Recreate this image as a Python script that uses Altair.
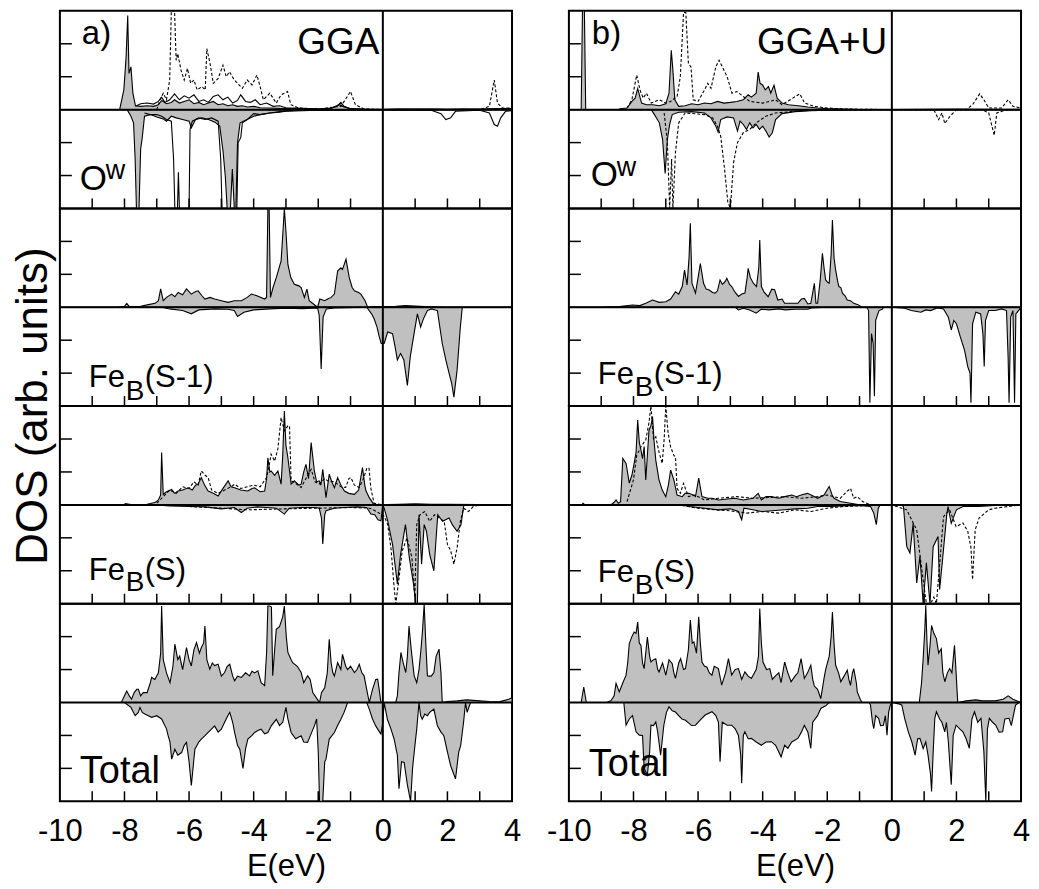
import altair as alt
import pandas as pd

# ---------------- data: (E in eV, DOS in arb. units) ----------------
# a) GGA, O^w
gga_ow_up = [(-10,0),(-8.15,0),(-8.02,0.6),(-7.95,1.6),(-7.9,2.86),(-7.86,1.1),(-7.8,1.3),(-7.74,0.5),(-7.66,0.12),(-7.5,0.1),(-7.3,0.12),(-7.1,0.1),(-6.95,0.15),(-6.85,0.28),(-6.7,0.18),(-6.55,0.22),(-6.45,0.3),(-6.3,0.2),(-6.15,0.25),(-6.0,0.3),(-5.85,0.18),(-5.7,0.22),(-5.55,0.15),(-5.4,0.2),(-5.25,0.25),(-5.1,0.15),(-4.95,0.18),(-4.8,0.12),(-4.65,0.15),(-4.5,0.1),(-4.35,0.12),(-4.2,0.08),(-4.0,0.1),(-3.8,0.06),(-3.5,0.05),(-3.2,0.04),(-2.9,0.03),(-2.5,0.03),(-2.0,0.02),(-1.6,0.05),(-1.4,0.12),(-1.3,0.22),(-1.2,0.1),(-1.0,0.03),(-0.6,0.01),(0.0,0),(0.5,0.02),(1.0,0.01),(1.5,0.02),(2.0,0.01),(2.5,0.02),(3.0,0.01),(3.5,0.03),(4.0,0.03)]
gga_ow_dn = [(-10,0),(-7.92,0),(-7.8,-0.2),(-7.72,-0.4),(-7.67,-1.5),(-7.63,-3.0),(-7.55,-3.0),(-7.5,-1.2),(-7.45,-0.85),(-7.38,-0.2),(-7.2,-0.15),(-7.0,-0.22),(-6.8,-0.28),(-6.7,-0.35),(-6.55,-0.2),(-6.4,-0.25),(-6.2,-0.3),(-6.0,-0.35),(-5.93,-0.55),(-5.8,-0.3),(-5.6,-0.25),(-5.4,-0.3),(-5.2,-0.38),(-5.05,-0.5),(-4.95,-1.25),(-4.88,-2.0),(-4.82,-3.0),(-4.72,-3.0),(-4.66,-1.8),(-4.6,-3.0),(-4.55,-3.0),(-4.5,-1.0),(-4.42,-0.4),(-4.2,-0.3),(-4.0,-0.2),(-3.8,-0.15),(-3.5,-0.1),(-3.2,-0.06),(-3.0,-0.04),(-2.5,-0.02),(0.0,0),(4.0,0)]
gga_ow2_up = [(-7.66,0.1),(-7.5,0.18),(-7.3,0.2),(-7.1,0.17),(-6.95,0.25),(-6.85,0.38),(-6.75,0.22),(-6.6,0.3),(-6.45,0.48),(-6.3,0.3),(-6.15,0.42),(-6.0,0.35),(-5.85,0.45),(-5.7,0.25),(-5.55,0.3),(-5.4,0.22),(-5.25,0.4),(-5.1,0.45),(-4.95,0.3),(-4.8,0.38),(-4.65,0.2),(-4.5,0.28),(-4.4,0.45),(-4.25,0.25),(-4.1,0.22),(-3.95,0.3),(-3.8,0.15),(-3.6,0.2),(-3.4,0.1),(-3.2,0.12),(-3.0,0.06),(-2.7,0.05),(-2.3,0.03),(-2.0,0.02),(-1.6,0.04),(-1.35,0.15),(-1.25,0.1),(-1.0,0.03),(-0.5,0.01),(0.0,0.01),(1.0,0.02),(2.0,0.01),(3.0,0.02),(3.5,0.02),(4.0,0.02)]
gga_ow2_dn = [(-7.38,-0.1),(-7.2,-0.15),(-7.0,-0.15),(-6.85,-0.2),(-6.7,-0.3),(-6.55,-0.35),(-6.48,-1.5),(-6.44,-3.0),(-6.36,-3.0),(-6.33,-1.9),(-6.3,-3.0),(-6.0,-3.0),(-5.97,-0.6),(-5.9,-0.35),(-5.7,-0.25),(-5.5,-0.3),(-5.3,-0.25),(-5.1,-0.35),(-5.02,-1.5),(-4.98,-3.0),(-4.52,-3.0),(-4.48,-1.0),(-4.4,-0.85),(-4.35,-0.4),(-4.2,-0.3),(-4.0,-0.12),(-3.8,-0.15),(-3.5,-0.1),(-3.2,-0.08),(-3.0,-0.05),(-2.5,-0.03),(-2.0,-0.02),(0.0,-0.01),(1.5,-0.02),(1.8,-0.12),(1.95,-0.3),(2.1,-0.25),(2.25,-0.05),(3.0,-0.02),(3.3,-0.1),(3.45,-0.45),(3.55,-0.5),(3.65,-0.25),(3.8,-0.05),(4.0,-0.03)]
gga_ow3_up = [(-7.0,0.0),(-6.9,0.3),(-6.8,0.5),(-6.7,0.3),(-6.6,0.9),(-6.55,3.0),(-6.45,3.0),(-6.4,1.5),(-6.35,1.7),(-6.25,1.2),(-6.15,0.9),(-6.05,1.25),(-5.95,0.8),(-5.85,0.9),(-5.75,0.6),(-5.6,0.7),(-5.5,0.6),(-5.45,1.85),(-5.35,1.4),(-5.25,0.8),(-5.1,0.95),(-4.95,1.35),(-4.85,1.0),(-4.75,1.15),(-4.6,0.9),(-4.5,0.8),(-4.35,0.65),(-4.2,0.9),(-4.05,0.75),(-3.9,1.05),(-3.8,0.7),(-3.7,0.3),(-3.5,0.5),(-3.3,0.2),(-3.15,0.45),(-2.95,0.55),(-2.85,0.15),(-2.6,0.05),(-2.0,0.02),(-1.3,0.1),(-1.0,0.55),(-0.85,0.15),(-0.6,0.03),(0.0,0.0),(3.0,0.0),(3.3,0.1),(3.45,0.9),(3.55,0.2),(3.7,0.05),(4.0,0.05)]

# b) GGA+U, O^w
ggau_ow_up = [(-10,0),(-9.62,0),(-9.58,3.0),(-9.52,3.0),(-9.48,0),(-8.5,0),(-8.4,0.03),(-8.2,0.05),(-8.05,0.25),(-7.95,0.35),(-7.87,0.64),(-7.75,0.2),(-7.6,0.15),(-7.4,0.15),(-7.2,0.12),(-7.0,0.18),(-6.9,0.5),(-6.83,1.8),(-6.78,1.2),(-6.72,0.3),(-6.6,0.1),(-6.4,0.12),(-6.2,0.18),(-6.0,0.15),(-5.8,0.2),(-5.6,0.18),(-5.4,0.25),(-5.2,0.2),(-5.0,0.22),(-4.8,0.25),(-4.6,0.3),(-4.45,0.45),(-4.35,0.38),(-4.2,0.5),(-4.14,1.14),(-4.08,0.8),(-4.0,0.75),(-3.92,0.6),(-3.82,0.7),(-3.75,0.5),(-3.65,0.74),(-3.55,0.35),(-3.4,0.2),(-3.2,0.15),(-2.9,0.12),(-2.6,0.08),(-2.3,0.05),(-2.0,0.03),(-1.5,0.02),(-1.0,0.0),(0.0,0),(1.0,0.01),(2.0,0.02),(3.0,0.01),(4.0,0.01)]
ggau_ow_dn = [(-10,0),(-7.45,0),(-7.35,-0.15),(-7.2,-0.4),(-7.1,-0.9),(-7.02,-1.94),(-6.95,-0.9),(-6.88,-0.45),(-6.8,-0.15),(-6.6,-0.08),(-6.2,-0.06),(-5.8,-0.1),(-5.6,-0.25),(-5.45,-0.5),(-5.38,-0.68),(-5.3,-0.3),(-5.1,-0.22),(-4.9,-0.25),(-4.78,-0.65),(-4.7,-0.35),(-4.6,-0.45),(-4.5,-0.6),(-4.4,-0.4),(-4.3,-0.55),(-4.2,-0.45),(-4.1,-0.6),(-4.0,-0.5),(-3.9,-0.65),(-3.8,-0.83),(-3.7,-0.7),(-3.6,-0.3),(-3.4,-0.12),(-3.0,-0.06),(-2.5,-0.03),(-2.0,-0.02),(0.0,0),(4.0,0)]
ggau_ow3_up = [(-8.2,0.05),(-8.05,0.3),(-7.9,1.05),(-7.8,0.6),(-7.7,0.35),(-7.6,0.5),(-7.45,0.2),(-7.2,0.3),(-7.0,0.2),(-6.85,0.25),(-6.65,0.4),(-6.55,1.0),(-6.45,2.95),(-6.38,2.95),(-6.3,1.4),(-6.22,1.3),(-6.15,0.3),(-6.0,0.25),(-5.8,0.6),(-5.7,0.8),(-5.6,0.65),(-5.45,1.3),(-5.35,1.5),(-5.25,1.3),(-5.1,1.0),(-4.95,0.5),(-4.8,0.55),(-4.6,0.4),(-4.4,0.25),(-4.0,0.2),(-3.6,0.3),(-3.4,0.15),(-2.85,0.48),(-2.7,0.2),(-2.4,0.1),(-2.0,0.05),(-1.5,0.02),(0.0,0.0),(2.3,0.0),(2.5,0.15),(2.72,0.48),(2.85,0.3),(3.0,0.05),(3.4,0.05),(3.6,0.3),(3.75,0.1),(4.0,0.05)]
ggau_ow3_dn = [(-7.05,-0.1),(-6.95,-1.0),(-6.88,-3.0),(-6.82,-1.5),(-6.78,-3.0),(-6.7,-1.3),(-6.6,-0.4),(-6.4,-0.1),(-5.8,-0.15),(-5.55,-0.25),(-5.4,-0.5),(-5.3,-0.8),(-5.18,-1.8),(-5.08,-2.8),(-5.0,-3.0),(-4.9,-1.6),(-4.78,-1.0),(-4.6,-0.7),(-4.4,-0.6),(-4.2,-0.4),(-3.9,-0.2),(-3.6,-0.1),(-3.0,-0.05),(-2.5,-0.02),(0.0,0.0),(1.3,0.0),(1.45,-0.3),(1.55,-0.1),(1.64,-0.42),(1.8,-0.2),(2.0,0.0),(2.8,0.0),(3.0,-0.1),(3.17,-0.78),(3.25,-0.1),(3.5,-0.02),(4.0,0.0)]

# a) GGA, Fe_B(S-1)
gga_fes1_up = [(-10,0),(-8.2,0),(-8.0,0.03),(-7.93,0.12),(-7.85,0.02),(-7.5,0.03),(-7.26,0.08),(-7.05,0.12),(-6.95,0.2),(-6.88,0.56),(-6.8,0.2),(-6.7,0.3),(-6.54,0.4),(-6.44,0.32),(-6.34,0.45),(-6.2,0.38),(-6.08,0.56),(-5.93,0.4),(-5.8,0.48),(-5.72,0.5),(-5.6,0.35),(-5.51,0.25),(-5.35,0.3),(-5.21,0.25),(-5.0,0.2),(-4.79,0.15),(-4.6,0.2),(-4.38,0.2),(-4.2,0.3),(-4.07,0.4),(-3.9,0.35),(-3.66,0.25),(-3.6,0.3),(-3.56,3.0),(-3.52,3.0),(-3.48,0.3),(-3.4,0.6),(-3.3,0.9),(-3.15,1.41),(-3.08,2.5),(-3.05,3.0),(-3.0,2.3),(-2.94,1.3),(-2.85,0.9),(-2.74,0.7),(-2.6,0.65),(-2.53,0.6),(-2.43,0.3),(-2.35,0.55),(-2.28,0.2),(-2.15,0.1),(-2.02,0.0),(-1.95,0.25),(-1.8,0.2),(-1.71,0.25),(-1.6,0.3),(-1.5,0.4),(-1.4,1.1),(-1.3,1.2),(-1.25,1.15),(-1.14,1.46),(-1.04,0.9),(-0.95,0.6),(-0.88,0.5),(-0.75,0.45),(-0.68,0.4),(-0.55,0.2),(-0.47,0.0),(-0.3,0.02),(0.0,0.02),(0.4,0.03),(0.7,0.05),(1.0,0.04),(1.3,0.02),(1.7,0.01),(2.0,0),(4.0,0)]
gga_fes1_dn = [(-10,0),(-6.85,0),(-6.6,-0.05),(-6.2,-0.1),(-5.93,-0.2),(-5.7,-0.08),(-5.2,-0.05),(-4.8,-0.06),(-4.6,-0.1),(-4.5,-0.28),(-4.3,-0.15),(-4.0,-0.08),(-3.5,-0.05),(-3.0,-0.03),(-2.5,-0.04),(-2.02,-0.02),(-1.97,-0.25),(-1.91,-1.87),(-1.85,-0.3),(-1.75,-0.05),(-1.5,-0.02),(-0.5,0),(-0.35,-0.2),(-0.27,-0.35),(-0.18,-0.6),(-0.11,-0.9),(-0.05,-1.1),(0.04,-1.1),(0.15,-0.75),(0.3,-0.8),(0.38,-1.2),(0.45,-1.6),(0.55,-1.4),(0.65,-1.6),(0.76,-2.37),(0.85,-1.5),(0.95,-0.9),(1.07,-0.2),(1.17,-0.6),(1.22,-0.45),(1.28,-0.3),(1.38,-0.1),(1.5,-0.05),(1.69,-0.1),(1.84,-1.1),(1.95,-1.6),(2.05,-2.0),(2.13,-2.3),(2.2,-2.73),(2.3,-1.9),(2.4,-0.6),(2.46,0),(4.0,0)]

# b) GGA+U, Fe_B(S-1)
ggau_fes1_up = [(-10,0),(-9.0,0),(-8.95,0.01),(-8.44,0.02),(-8.03,0.07),(-7.8,0.05),(-7.62,0.12),(-7.41,0.22),(-7.2,0.15),(-7.0,0.17),(-6.85,0.25),(-6.7,0.47),(-6.6,0.4),(-6.49,0.63),(-6.42,1.13),(-6.34,0.68),(-6.28,1.5),(-6.24,2.55),(-6.19,0.73),(-6.08,0.43),(-6.0,0.9),(-5.93,1.33),(-5.83,0.73),(-5.75,0.55),(-5.67,0.53),(-5.55,0.45),(-5.47,0.43),(-5.4,0.5),(-5.32,0.83),(-5.25,0.7),(-5.21,0.73),(-5.15,0.8),(-5.11,0.88),(-5.03,0.7),(-4.96,0.63),(-4.85,0.45),(-4.75,0.33),(-4.65,0.4),(-4.55,0.43),(-4.48,0.9),(-4.45,1.18),(-4.38,0.9),(-4.29,0.73),(-4.19,0.63),(-4.12,1.2),(-4.09,2.04),(-4.04,0.63),(-3.95,0.45),(-3.83,0.32),(-3.72,0.55),(-3.63,0.53),(-3.53,0.22),(-3.4,0.25),(-3.32,0.12),(-3.1,0.12),(-2.91,0.12),(-2.8,0.25),(-2.71,0.27),(-2.6,0.1),(-2.51,0.12),(-2.44,0.5),(-2.4,0.73),(-2.35,0.12),(-2.3,0.12),(-2.22,0.8),(-2.15,1.64),(-2.1,1.2),(-2.05,0.83),(-1.98,0.75),(-1.94,0.73),(-1.88,1.6),(-1.84,2.65),(-1.79,1.5),(-1.74,1.13),(-1.68,0.8),(-1.64,0.63),(-1.58,0.6),(-1.53,0.43),(-1.45,0.35),(-1.38,0.22),(-1.28,0.2),(-1.18,0.12),(-1.05,0.08),(-0.92,0.0),(4.0,0)]
ggau_fes1_dn = [(-10,0),(-4.85,0),(-4.75,-0.08),(-4.6,-0.03),(-4.4,-0.08),(-4.2,-0.18),(-4.05,-0.06),(-3.8,-0.08),(-3.5,-0.05),(-3.3,-0.08),(-3.0,-0.06),(-2.6,-0.06),(-2.5,-0.02),(-2.0,0),(-0.78,0),(-0.72,-0.1),(-0.68,-2.9),(-0.63,-0.8),(-0.58,-1.1),(-0.54,-2.7),(-0.5,-0.4),(-0.4,-0.1),(-0.3,-0.06),(-0.25,0),(0.0,0),(0.4,-0.03),(0.6,-0.1),(0.9,-0.15),(1.05,-0.08),(1.2,-0.1),(1.4,-0.02),(1.6,-0.05),(1.75,-0.3),(1.84,-0.69),(1.92,-0.4),(2.0,-0.5),(2.12,-0.9),(2.25,-1.3),(2.35,-1.8),(2.42,-2.0),(2.45,-2.9),(2.5,-0.5),(2.6,-0.15),(2.75,-0.2),(2.82,-0.8),(2.86,-1.8),(2.9,-0.4),(3.0,-0.1),(3.2,-0.1),(3.4,-0.05),(3.55,-0.1),(3.6,-1.5),(3.63,-2.9),(3.68,-0.3),(3.75,-0.1),(3.8,-2.9),(3.84,-0.2),(3.94,-0.08),(4.0,0)]

# a) GGA, Fe_B(S)
gga_fes_up = [(-10,0),(-8.0,0),(-7.98,0.04),(-7.8,0.01),(-7.3,0.02),(-7.06,0.07),(-6.95,0.15),(-6.88,0.3),(-6.85,1.59),(-6.8,0.32),(-6.7,0.4),(-6.54,0.47),(-6.45,0.35),(-6.34,0.42),(-6.2,0.45),(-6.03,0.52),(-5.9,0.45),(-5.8,0.6),(-5.72,0.63),(-5.62,0.83),(-5.52,0.6),(-5.41,0.42),(-5.25,0.35),(-5.1,0.27),(-4.95,0.5),(-4.79,0.73),(-4.7,0.55),(-4.59,0.52),(-4.4,0.45),(-4.18,0.42),(-4.05,0.5),(-3.97,0.52),(-3.8,0.4),(-3.66,0.42),(-3.6,0.8),(-3.56,1.43),(-3.5,1.0),(-3.46,1.03),(-3.35,0.9),(-3.25,1.03),(-3.15,0.63),(-3.1,1.5),(-3.05,2.85),(-3.0,1.8),(-2.94,1.43),(-2.84,0.63),(-2.74,0.73),(-2.6,0.6),(-2.53,0.63),(-2.45,1.0),(-2.38,1.23),(-2.3,0.8),(-2.22,1.89),(-2.12,1.03),(-2.05,0.7),(-1.97,0.73),(-1.92,0.6),(-1.86,1.08),(-1.76,0.22),(-1.66,0.93),(-1.58,0.7),(-1.5,0.52),(-1.4,0.83),(-1.3,0.6),(-1.19,0.42),(-1.05,0.35),(-0.88,0.32),(-0.75,0.45),(-0.63,1.13),(-0.56,0.6),(-0.52,0.42),(-0.42,0.22),(-0.27,0.0),(0.5,0.02),(1.0,0.03),(1.5,0.02),(2.0,0.02),(4.0,0)]
gga_fes_dn = [(-10,0),(-7.0,0),(-6.6,-0.03),(-6.0,-0.05),(-5.5,-0.06),(-5.0,-0.12),(-4.6,-0.08),(-4.38,-0.23),(-4.2,-0.1),(-3.9,-0.06),(-3.6,-0.08),(-3.3,-0.1),(-3.05,-0.28),(-2.9,-0.1),(-2.5,-0.08),(-2.1,-0.08),(-1.97,-0.1),(-1.9,-0.4),(-1.86,-1.19),(-1.8,-0.3),(-1.76,-0.18),(-1.5,-0.1),(-1.2,-0.08),(-0.8,-0.06),(-0.5,-0.08),(-0.37,-0.28),(-0.25,-0.3),(-0.15,-0.45),(-0.06,-0.48),(0.0,0),(0.04,-0.1),(0.15,-0.48),(0.3,-1.2),(0.45,-2.4),(0.55,-1.5),(0.7,-0.6),(0.82,-1.6),(0.95,-2.4),(1.02,-3.0),(1.07,-3.0),(1.12,-0.3),(1.2,-1.8),(1.28,-0.6),(1.35,-0.8),(1.45,-1.5),(1.58,-2.0),(1.7,-0.3),(1.85,-0.5),(2.05,-0.4),(2.15,-0.6),(2.3,-0.8),(2.42,-0.6),(2.51,0),(4.0,0)]
gga_fes3_up = [(-7.0,0.05),(-6.8,0.25),(-6.6,0.45),(-6.4,0.35),(-6.2,0.55),(-6.0,0.5),(-5.85,0.7),(-5.72,0.6),(-5.62,1.03),(-5.5,0.9),(-5.41,0.83),(-5.3,0.45),(-5.1,0.35),(-4.9,0.45),(-4.7,0.55),(-4.59,0.63),(-4.4,0.5),(-4.2,0.55),(-4.0,0.6),(-3.8,0.55),(-3.6,0.83),(-3.5,1.3),(-3.46,1.54),(-3.35,1.33),(-3.25,1.7),(-3.15,2.65),(-3.05,2.25),(-2.94,2.4),(-2.89,2.4),(-2.84,0.73),(-2.74,0.68),(-2.53,0.53),(-2.38,0.8),(-2.22,1.08),(-2.1,0.7),(-1.97,0.63),(-1.8,0.8),(-1.71,0.73),(-1.5,0.7),(-1.3,0.55),(-1.15,0.53),(-1.05,0.8),(-0.99,0.83),(-0.88,0.6),(-0.73,0.53),(-0.6,0.8),(-0.5,1.1),(-0.43,1.13),(-0.37,0.5),(-0.27,0.05),(0.0,0.0)]
gga_fes3_dn = [(-6.0,-0.05),(-5.0,-0.1),(-4.2,-0.15),(-3.0,-0.12),(-2.0,-0.1),(-1.0,-0.08),(-0.4,-0.1),(-0.2,-0.2),(0.05,-0.35),(0.15,-0.6),(0.25,-1.3),(0.35,-2.5),(0.4,-3.0),(0.48,-2.4),(0.6,-1.4),(0.75,-1.0),(0.9,-1.6),(0.99,-2.8),(1.05,-0.6),(1.15,-0.3),(1.3,-0.2),(1.45,-0.5),(1.6,-0.3),(1.75,-0.4),(1.9,-0.5),(2.0,-1.2),(2.1,-1.39),(2.2,-1.8),(2.3,-1.3),(2.4,-0.5),(2.5,-0.1),(2.65,-0.2),(2.8,-0.05),(3.0,0.0),(4.0,0.0)]

# b) GGA+U, Fe_B(S)
ggau_fes_up = [(-10,0),(-9.6,0),(-9.56,0.05),(-9.5,0),(-8.7,0),(-8.6,0.08),(-8.54,0.15),(-8.47,0.05),(-8.4,0.1),(-8.33,1.41),(-8.23,1.26),(-8.13,0.66),(-8.05,0.9),(-7.98,1.26),(-7.92,1.6),(-7.87,2.58),(-7.82,1.9),(-7.77,1.67),(-7.72,1.4),(-7.67,1.77),(-7.62,0.76),(-7.57,1.5),(-7.52,2.27),(-7.46,2.4),(-7.41,2.68),(-7.36,1.9),(-7.31,1.36),(-7.21,0.76),(-7.11,0.45),(-7.0,0.25),(-6.92,0.6),(-6.85,1.06),(-6.75,0.76),(-6.65,0.3),(-6.49,0.25),(-6.4,0.35),(-6.29,0.35),(-6.15,0.3),(-6.08,0.25),(-5.98,0.81),(-5.88,0.25),(-5.7,0.2),(-5.57,0.2),(-5.37,0.15),(-5.1,0.18),(-4.86,0.2),(-4.6,0.15),(-4.3,0.2),(-4.14,0.35),(-4.04,0.15),(-3.9,0.25),(-3.73,0.25),(-3.5,0.2),(-3.32,0.25),(-3.1,0.3),(-2.95,0.25),(-2.81,0.3),(-2.61,0.35),(-2.45,0.28),(-2.3,0.2),(-2.1,0.3),(-1.94,0.56),(-1.85,0.3),(-1.79,0.2),(-1.6,0.1),(-1.28,0.05),(-1.0,0.0),(4.0,0)]
ggau_fes_dn = [(-10,0),(-6.5,0),(-6.29,-0.05),(-5.8,-0.1),(-5.37,-0.15),(-5.0,-0.12),(-4.75,-0.2),(-4.65,-0.45),(-4.58,-0.1),(-4.3,-0.15),(-4.04,-0.2),(-3.7,-0.18),(-3.32,-0.15),(-3.0,-0.12),(-2.6,-0.1),(-2.3,-0.05),(-1.9,-0.05),(-1.5,-0.03),(-1.0,-0.02),(-0.66,-0.05),(-0.56,-0.25),(-0.48,-0.6),(-0.42,-0.1),(-0.36,0),(0.3,0),(0.36,-0.05),(0.46,-1.26),(0.56,-1.46),(0.66,-0.56),(0.77,-2.37),(0.87,-1.56),(0.97,-3.0),(1.07,-1.76),(1.18,-3.0),(1.28,-1.27),(1.43,-0.96),(1.48,-2.57),(1.58,-1.56),(1.7,-0.3),(1.74,-0.05),(1.84,-0.56),(2.0,-0.15),(2.2,-0.05),(2.5,-0.05),(2.7,-0.05),(3.2,-0.02),(4.0,0)]
ggau_fes3_up = [(-8.2,0.1),(-8.0,0.76),(-7.9,1.5),(-7.75,1.8),(-7.62,1.97),(-7.52,2.5),(-7.46,3.0),(-7.38,2.0),(-7.31,2.07),(-7.21,1.6),(-7.11,1.26),(-7.05,2.0),(-7.0,3.0),(-6.93,2.2),(-6.85,1.76),(-6.75,1.5),(-6.7,1.46),(-6.65,0.5),(-6.55,0.35),(-6.45,0.65),(-6.3,0.25),(-6.1,0.3),(-5.8,0.15),(-5.37,0.2),(-4.8,0.25),(-4.3,0.2),(-3.32,0.25),(-2.8,0.2),(-2.3,0.25),(-2.0,0.3),(-1.6,0.2),(-1.4,0.4),(-1.28,0.5),(-1.18,0.2),(-1.07,0.25),(-0.9,0.1),(-0.66,0.0),(0.0,0.0)]
ggau_fes3_dn = [(-6.5,-0.02),(-6.0,-0.1),(-5.5,-0.15),(-5.0,-0.18),(-4.5,-0.25),(-4.0,-0.2),(-3.5,-0.25),(-3.0,-0.15),(-2.5,-0.2),(-2.0,-0.1),(-1.5,-0.05),(-1.0,-0.03),(0.0,0.0),(0.46,-0.15),(0.77,-0.76),(0.97,-2.27),(1.07,-3.0),(1.2,-3.0),(1.3,-2.8),(1.38,-3.0),(1.48,-1.8),(1.6,-0.36),(1.79,-0.15),(1.99,-0.66),(2.2,-0.55),(2.35,-0.8),(2.45,-1.3),(2.5,-2.27),(2.58,-0.76),(2.7,-0.4),(3.0,-0.15),(3.2,-0.1),(3.6,-0.05),(4.0,0.0)]

# a) GGA, Total
gga_tot_up = [(-10,0),(-8.1,0),(-7.93,0.35),(-7.85,0.2),(-7.78,0.1),(-7.7,0.3),(-7.62,0.4),(-7.57,0.4),(-7.5,0.2),(-7.42,0.3),(-7.3,0.3),(-7.2,0.6),(-7.16,0.76),(-7.06,0.7),(-6.95,0.9),(-6.88,1.5),(-6.85,2.93),(-6.8,1.31),(-6.7,0.9),(-6.59,0.6),(-6.5,1.1),(-6.44,1.77),(-6.35,1.3),(-6.29,1.41),(-6.2,1.0),(-6.08,1.67),(-6.0,1.3),(-5.93,1.11),(-5.85,1.6),(-5.77,1.82),(-5.68,1.5),(-5.62,1.67),(-5.55,1.8),(-5.51,2.32),(-5.45,1.3),(-5.36,1.01),(-5.28,1.2),(-5.21,1.12),(-5.1,1.16),(-5.0,0.8),(-4.9,0.91),(-4.82,1.1),(-4.74,1.16),(-4.65,0.8),(-4.59,0.66),(-4.5,0.8),(-4.38,0.76),(-4.25,0.9),(-4.13,0.81),(-4.05,0.95),(-3.97,0.9),(-3.87,0.96),(-3.77,0.6),(-3.66,0.51),(-3.6,1.5),(-3.56,2.93),(-3.5,2.93),(-3.45,2.9),(-3.41,0.81),(-3.35,1.6),(-3.3,2.22),(-3.2,2.3),(-3.1,2.6),(-3.05,2.93),(-2.99,2.0),(-2.94,1.52),(-2.84,1.3),(-2.79,1.21),(-2.65,1.1),(-2.53,0.91),(-2.45,0.6),(-2.33,0.81),(-2.25,0.7),(-2.17,0.3),(-2.1,0.2),(-1.96,0.0),(-1.9,0.3),(-1.8,0.45),(-1.72,0.9),(-1.66,1.92),(-1.6,1.2),(-1.55,0.91),(-1.5,0.8),(-1.4,1.21),(-1.3,1.0),(-1.25,1.46),(-1.15,1.1),(-1.09,1.0),(-1.0,1.1),(-0.88,0.91),(-0.8,1.0),(-0.73,1.16),(-0.65,0.9),(-0.58,0.81),(-0.5,0.4),(-0.42,0.0),(-0.32,0.4),(-0.22,0.7),(-0.16,0.71),(-0.1,0.3),(-0.06,0.0),(0.4,0.0),(0.45,0.2),(0.5,0.9),(0.56,1.52),(0.63,1.2),(0.71,0.91),(0.76,1.4),(0.81,2.32),(0.88,1.6),(0.97,0.81),(1.05,0.6),(1.12,1.0),(1.18,1.6),(1.23,2.2),(1.28,2.98),(1.33,1.8),(1.38,0.81),(1.43,0.8),(1.5,0.8),(1.58,0.91),(1.65,1.4),(1.74,1.62),(1.8,0.9),(1.84,0.0),(2.0,0.03),(2.3,0.05),(2.6,0.08),(3.0,0.05),(3.3,0.03),(3.6,0.02),(3.9,0.1),(4.0,0.15)]
gga_tot_dn = [(-10,0),(-8.0,0),(-7.8,-0.15),(-7.67,-0.4),(-7.57,-0.3),(-7.52,-0.15),(-7.45,-0.3),(-7.37,-0.35),(-7.26,-0.4),(-7.16,-0.45),(-7.0,-0.4),(-6.85,-0.5),(-6.7,-0.8),(-6.65,-1.0),(-6.59,-1.2),(-6.54,-1.72),(-6.44,-1.42),(-6.35,-1.6),(-6.23,-1.52),(-6.15,-1.3),(-6.08,-1.21),(-6.0,-1.8),(-5.93,-2.52),(-5.82,-1.42),(-5.7,-1.2),(-5.62,-1.11),(-5.5,-1.0),(-5.41,-0.91),(-5.3,-0.8),(-5.21,-0.71),(-5.1,-0.9),(-5.0,-0.81),(-4.9,-0.6),(-4.8,-0.4),(-4.74,-0.3),(-4.65,-0.6),(-4.59,-0.91),(-4.5,-1.3),(-4.43,-1.42),(-4.33,-2.0),(-4.25,-1.4),(-4.18,-1.11),(-4.05,-1.0),(-3.97,-0.91),(-3.87,-0.85),(-3.77,-0.81),(-3.66,-0.95),(-3.56,-0.91),(-3.45,-0.7),(-3.3,-0.51),(-3.2,-0.7),(-3.1,-0.6),(-3.0,-0.15),(-2.94,-0.5),(-2.84,-0.91),(-2.7,-1.1),(-2.53,-1.01),(-2.45,-1.2),(-2.33,-1.21),(-2.2,-0.9),(-2.12,-0.71),(-2.05,-0.5),(-2.0,-1.5),(-1.96,-3.0),(-1.86,-3.0),(-1.8,-1.8),(-1.76,-1.72),(-1.66,-1.11),(-1.5,-0.91),(-1.4,-0.7),(-1.3,-0.51),(-1.2,-0.3),(-1.09,0.0),(-0.5,0.0),(-0.42,-0.2),(-0.32,-0.5),(-0.22,-0.71),(-0.1,-0.9),(-0.06,-0.96),(0.0,-0.6),(0.04,0.0),(0.1,-0.3),(0.14,-0.51),(0.25,-0.8),(0.35,-1.11),(0.45,-1.6),(0.5,-2.62),(0.58,-1.8),(0.66,-1.82),(0.76,-2.5),(0.86,-3.0),(0.92,-2.0),(0.97,-1.52),(1.05,-0.8),(1.12,0.0),(1.17,-0.4),(1.22,-0.51),(1.3,-0.35),(1.38,-0.4),(1.45,-0.3),(1.58,-0.2),(1.69,-0.71),(1.8,-0.9),(1.89,-1.01),(2.0,-1.5),(2.1,-1.92),(2.25,-2.32),(2.35,-1.5),(2.41,-1.31),(2.5,-0.6),(2.56,0.0),(2.61,-0.3),(2.68,-0.1),(2.72,0.0),(4.0,0)]

# b) GGA+U, Total
ggau_tot_up = [(-10,0),(-9.62,0),(-9.54,0.47),(-9.46,0),(-8.84,0),(-8.7,0.05),(-8.6,0.2),(-8.54,0.58),(-8.44,0.32),(-8.33,0.6),(-8.23,0.83),(-8.18,1.2),(-8.13,1.79),(-8.05,2.0),(-7.98,2.14),(-7.92,2.1),(-7.87,2.44),(-7.82,1.8),(-7.77,1.74),(-7.72,1.2),(-7.67,1.03),(-7.6,1.7),(-7.57,1.99),(-7.5,1.4),(-7.46,1.23),(-7.38,1.3),(-7.31,1.33),(-7.25,1.0),(-7.21,0.93),(-7.1,1.2),(-7.0,0.83),(-6.9,1.3),(-6.8,1.18),(-6.75,0.9),(-6.7,0.73),(-6.6,1.2),(-6.54,1.33),(-6.45,1.0),(-6.39,1.03),(-6.3,1.6),(-6.24,2.5),(-6.18,1.8),(-6.13,1.84),(-6.05,1.5),(-5.98,2.6),(-5.93,1.8),(-5.88,1.23),(-5.8,1.1),(-5.73,1.08),(-5.65,0.9),(-5.57,0.83),(-5.5,1.1),(-5.37,1.03),(-5.27,0.53),(-5.15,0.9),(-5.06,1.33),(-4.96,0.83),(-4.85,1.0),(-4.75,1.03),(-4.65,0.7),(-4.55,0.93),(-4.45,0.8),(-4.35,0.73),(-4.2,1.0),(-4.13,1.4),(-4.09,2.85),(-4.04,1.8),(-3.99,1.23),(-3.88,1.0),(-3.78,1.03),(-3.7,0.7),(-3.58,0.83),(-3.5,0.9),(-3.43,0.6),(-3.32,1.23),(-3.22,0.9),(-3.12,0.63),(-3.0,0.8),(-2.91,0.9),(-2.81,1.33),(-2.71,0.73),(-2.61,0.9),(-2.51,1.13),(-2.45,0.7),(-2.4,0.5),(-2.3,0.4),(-2.2,0.12),(-2.1,0.73),(-2.05,1.0),(-1.94,1.4),(-1.88,2.0),(-1.84,2.75),(-1.79,1.8),(-1.74,1.13),(-1.65,0.9),(-1.58,0.63),(-1.48,0.8),(-1.38,0.98),(-1.33,0.7),(-1.28,0.52),(-1.22,0.9),(-1.18,1.03),(-1.1,0.6),(-1.07,0.32),(-0.98,0.1),(-0.92,0.0),(0.85,0.0),(0.92,0.6),(0.97,1.33),(1.02,2.2),(1.05,2.95),(1.09,1.8),(1.12,1.13),(1.18,1.7),(1.23,2.34),(1.3,2.1),(1.38,1.94),(1.45,1.5),(1.53,1.63),(1.58,0.9),(1.64,0.63),(1.72,0.9),(1.79,1.03),(1.86,0.9),(1.94,1.74),(1.99,0.9),(2.04,0.0),(2.3,0.05),(2.6,0.08),(2.8,0.05),(3.2,0.05),(3.45,0.1),(3.6,0.2),(3.75,0.1),(3.94,0.02),(4.0,0)]
ggau_tot_dn = [(-10,0),(-8.3,0),(-8.23,-0.69),(-8.13,-0.5),(-8.03,-0.4),(-7.92,-0.89),(-7.82,-0.99),(-7.72,-1.0),(-7.67,-2.0),(-7.57,-2.2),(-7.5,-1.5),(-7.46,-0.69),(-7.38,-0.7),(-7.31,-0.59),(-7.25,-0.9),(-7.16,-1.6),(-7.06,-0.69),(-6.98,-0.3),(-6.9,-0.13),(-6.8,-0.25),(-6.7,-0.29),(-6.6,-0.4),(-6.5,-0.5),(-6.39,-0.54),(-6.2,-0.7),(-6.08,-0.69),(-5.9,-0.5),(-5.78,-0.38),(-5.57,-0.28),(-5.45,-0.4),(-5.37,-0.6),(-5.32,-1.8),(-5.25,-0.6),(-5.1,-0.69),(-4.96,-0.69),(-4.85,-0.8),(-4.75,-1.0),(-4.68,-1.6),(-4.65,-2.45),(-4.6,-1.0),(-4.55,-0.89),(-4.45,-1.1),(-4.35,-1.09),(-4.2,-1.2),(-4.04,-1.3),(-3.9,-1.2),(-3.73,-1.19),(-3.6,-1.3),(-3.5,-1.5),(-3.43,-1.65),(-3.32,-1.3),(-3.22,-1.39),(-3.1,-1.2),(-2.91,-1.09),(-2.8,-0.9),(-2.71,-0.69),(-2.6,-0.9),(-2.51,-1.39),(-2.45,-0.6),(-2.3,-0.4),(-2.2,-0.18),(-2.05,-0.1),(-1.94,0.0),(-0.7,0.0),(-0.66,-0.08),(-0.6,-0.6),(-0.56,-0.79),(-0.5,-0.4),(-0.41,-0.48),(-0.35,-0.7),(-0.26,-0.69),(-0.2,-0.4),(-0.15,-0.99),(-0.1,-0.3),(-0.05,-0.08),(0.0,0.0),(0.25,-0.05),(0.31,-0.08),(0.4,-0.5),(0.51,-0.89),(0.62,-1.2),(0.72,-1.6),(0.8,-1.1),(0.87,-1.09),(0.97,-1.4),(1.05,-1.2),(1.12,-1.6),(1.2,-2.2),(1.23,-2.7),(1.28,-1.5),(1.33,-0.48),(1.38,-0.28),(1.48,-0.5),(1.55,-0.6),(1.64,-0.89),(1.69,-0.6),(1.75,-1.2),(1.84,-2.5),(1.9,-1.0),(1.99,-0.69),(2.1,-0.8),(2.2,-0.89),(2.3,-1.1),(2.4,-1.39),(2.48,-0.5),(2.56,-0.28),(2.66,-0.6),(2.76,-0.48),(2.85,-1.5),(2.91,-3.0),(2.96,-0.8),(3.02,-0.48),(3.12,-0.6),(3.22,-0.69),(3.32,-0.9),(3.43,-0.89),(3.5,-0.5),(3.63,-0.48),(3.7,-0.7),(3.83,-0.08),(3.94,0.0),(4.0,0)]

# axis / tick values
x_tick_labels = [-10, -8, -6, -4, -2, 0, 2, 4]
x_minor_ticks = [-9, -8, -7, -6, -5, -4, -3, -2, -1, 1, 2, 3]
y_ticks = [-2, -1, 1, 2]
E_DOMAIN = [-10, 4]
DOS_DOMAIN = [-3, 3]

# ---------------- chart building ----------------
FONT = "Liberation Sans"
W, H = 453, 198
GRAY = "#c0c0c0"
LW = 1.1
xs = alt.Scale(domain=E_DOMAIN, nice=False, zero=False)
ys = alt.Scale(domain=DOS_DOMAIN, nice=False, zero=False)

BOTTOM_AXIS = alt.Axis(values=x_tick_labels, ticks=False, tickSize=0, domain=False, grid=False,
                       labelFont=FONT, labelFontSize=31, labelColor="black", labelPadding=15,
                       labelFlush=False, labelOverlap=False, labelExpr="'' + datum.value",
                       title="E(eV)", titleFont=FONT,
                       titleFontSize=31, titleFontWeight="normal", titleColor="black", titlePadding=5)


def df(pts):
    return pd.DataFrame(pts, columns=["E", "dos"])


def X(bottom):
    if bottom:
        return alt.X("E:Q", scale=xs, axis=BOTTOM_AXIS)
    return alt.X("E:Q", scale=xs, axis=None)


def Y():
    return alt.Y("dos:Q", scale=ys, axis=None)


def area(pts, bottom):
    return alt.Chart(df(pts)).mark_area(
        fill=GRAY, stroke="black", strokeWidth=LW, clip=True, interpolate="linear"
    ).encode(x=X(bottom), y=Y(), y2=alt.datum(0))


def line(pts, bottom, dashed=False):
    kw = dict(color="black", strokeWidth=LW, clip=True)
    if dashed:
        kw["strokeDash"] = [3, 2]
    return alt.Chart(df(pts)).mark_line(**kw).encode(x=X(bottom), y=Y())


def text(t, x, y, size, align="left", angle=None, baseline="alphabetic"):
    kw = dict(text=t, font=FONT, fontSize=size, color="black", align=align, baseline=baseline)
    if angle is not None:
        kw["angle"] = angle
    return alt.Chart(pd.DataFrame({"t": [t]})).mark_text(**kw).encode(x=alt.value(x), y=alt.value(y))


def panel(fills, lines, dots, labels, bottom=False):
    layers = [area(p, bottom) for p in fills]
    layers += [line(p, bottom) for p in lines]
    layers += [line(p, bottom, dashed=True) for p in dots]
    layers.append(alt.Chart(pd.DataFrame({"dos": [0]})).mark_rule(color="black", strokeWidth=2).encode(y=Y()))
    layers.append(alt.Chart(pd.DataFrame({"E": [0]})).mark_rule(color="black", strokeWidth=2).encode(x=X(bottom)))
    layers.append(alt.Chart(pd.DataFrame({"dos": y_ticks})).mark_rule(color="black", strokeWidth=1.5).encode(
        y=Y(), x=alt.value(0), x2=alt.value(12)))
    layers.append(alt.Chart(pd.DataFrame({"E": x_minor_ticks})).mark_rule(color="black", strokeWidth=1.5).encode(
        x=X(bottom), y=alt.value(H), y2=alt.value(H - 10)))
    layers += labels
    return alt.layer(*layers).properties(width=W, height=H)


def fe_label(paren, x, yb, ysub):
    return [text("Fe", x, yb, 31), text("B", x + 37, ysub, 28), text(paren, x + 56, yb, 31)]


dos_title = text("DOS (arb. units)", -26, H, 44, align="center", angle=270, baseline="middle")

panels = [
    panel([gga_ow_up, gga_ow_dn], [gga_ow2_up, gga_ow2_dn], [gga_ow3_up],
          [text("a)", 22, 33, 33), text("GGA", 320, 43, 37, align="right"),
           text("O", 20, 179, 35), text("w", 46, 168, 27)]),
    panel([ggau_ow_up, ggau_ow_dn], [], [ggau_ow3_up, ggau_ow3_dn],
          [text("b)", 23, 33, 33), text("GGA+U", 319, 43, 37, align="right"),
           text("O", 22, 175, 35), text("w", 48, 165, 27)]),
    panel([gga_fes1_up, gga_fes1_dn], [], [], fe_label("(S-1)", 29, 179, 192) + [dos_title]),
    panel([ggau_fes1_up, ggau_fes1_dn], [], [], fe_label("(S-1)", 29, 176, 188)),
    panel([gga_fes_up, gga_fes_dn], [], [gga_fes3_up, gga_fes3_dn], fe_label("(S)", 29, 174, 185)),
    panel([ggau_fes_up, ggau_fes_dn], [], [ggau_fes3_up, ggau_fes3_dn], fe_label("(S)", 29, 176, 188)),
    panel([gga_tot_up, gga_tot_dn], [], [], [text("Total", 20, 180, 38)], bottom=True),
    panel([ggau_tot_up, ggau_tot_dn], [], [], [text("Total", 20, 173, 38)], bottom=True),
]

chart = alt.concat(
    *panels, columns=2, spacing=alt.RowColnumber(row=0, column=57), bounds="flush"
).properties(
    padding={"left": 2, "top": 0, "right": 0, "bottom": 0},
    background="white",
).configure(font=FONT).configure_view(stroke="black", strokeWidth=2)

chart.save("out.html", embed_options={"renderer": "svg", "actions": False})
